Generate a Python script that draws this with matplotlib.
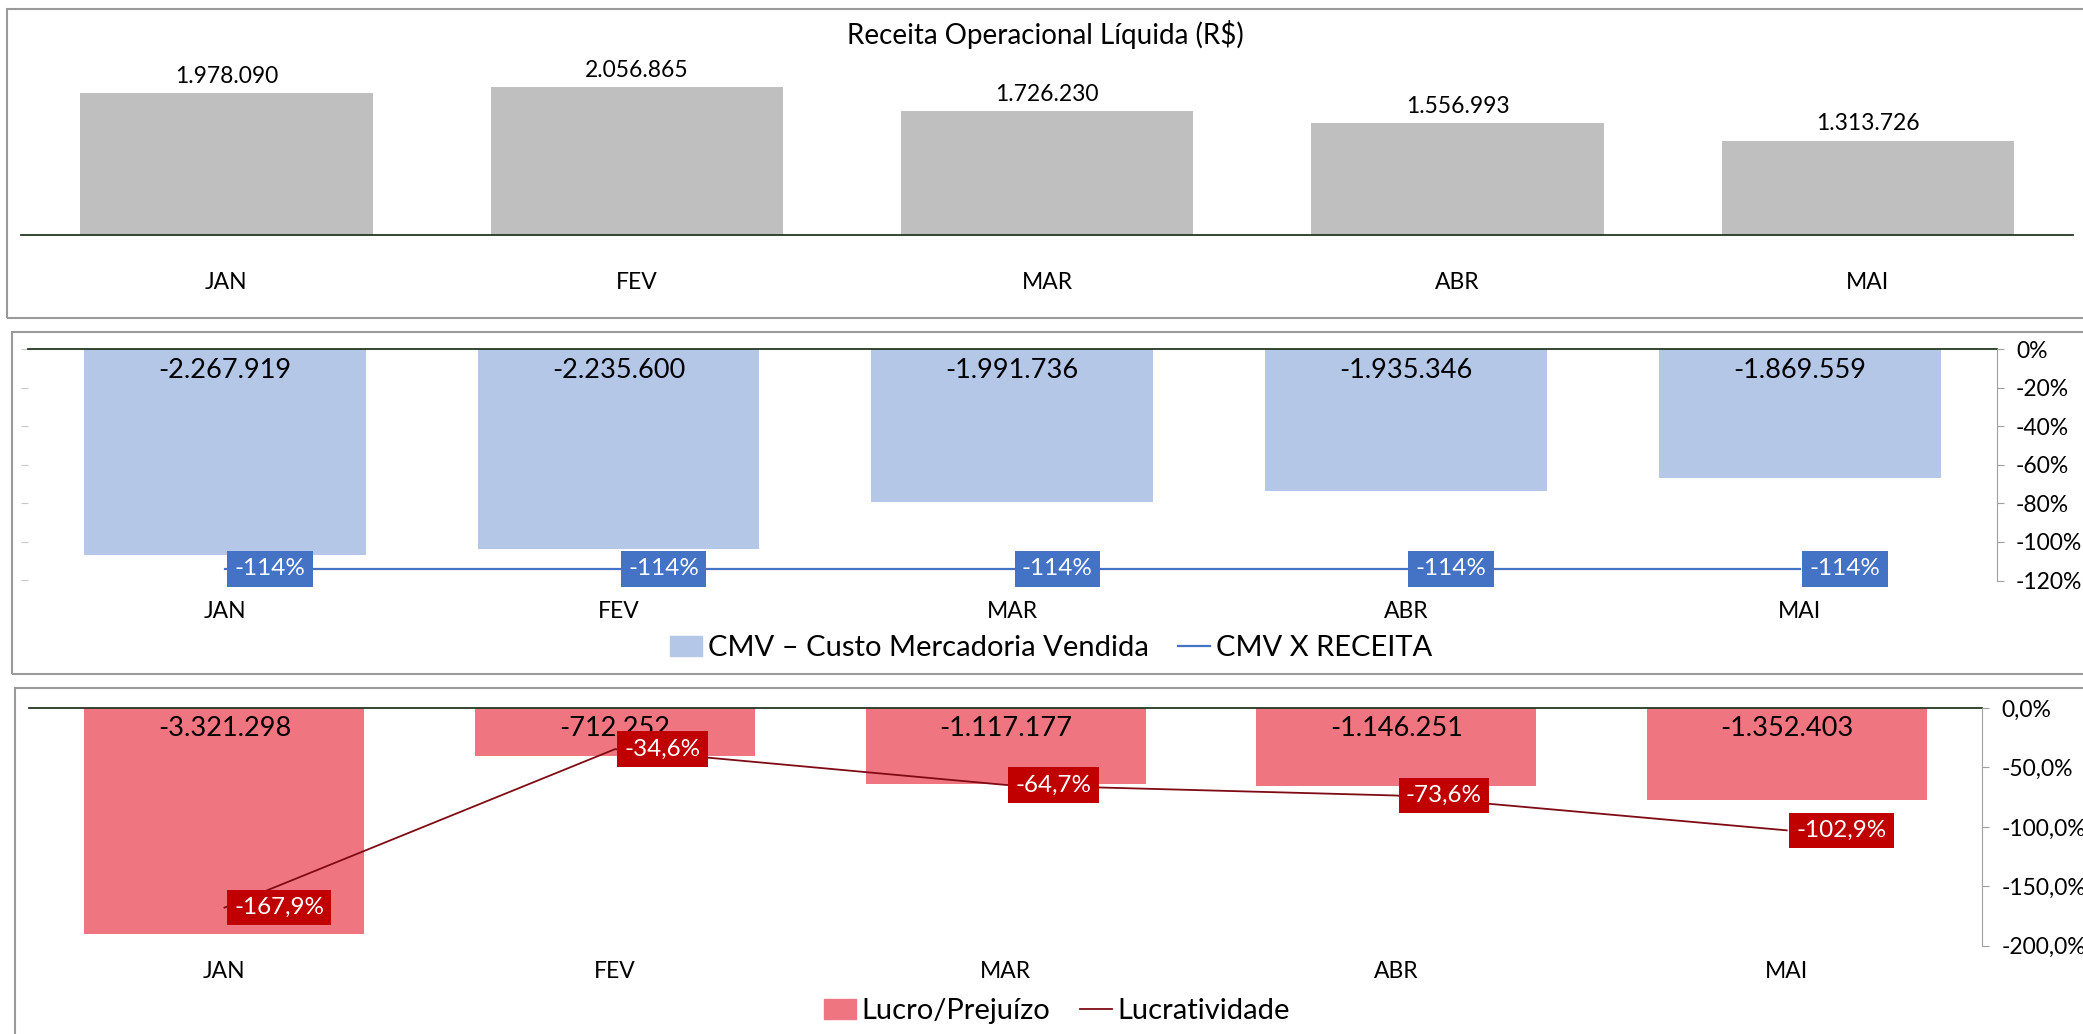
import matplotlib.pyplot as plt
from matplotlib.patches import Rectangle, Patch
from matplotlib.lines import Line2D

plt.rcParams['font.family'] = ['Lato', 'DejaVu Sans']

meses = ["JAN", "FEV", "MAR", "ABR", "MAI"]
receita = [1978090, 2056865, 1726230, 1556993, 1313726]
cmv = [-2267919, -2235600, -1991736, -1935346, -1869559]
cmv_x_receita = [-1.14, -1.14, -1.14, -1.14, -1.14]
lucro = [-3321298, -712252, -1117177, -1146251, -1352403]
lucratividade = [-1.679, -0.346, -0.647, -0.736, -1.029]

W, H = 2083, 1034
ZERO = "#223822"
x = range(len(meses))


def rect(x0, y0, x1, y1):
    # pixel box (top-left origin) -> figure fraction
    return [x0 / W, 1 - y1 / H, (x1 - x0) / W, (y1 - y0) / H]


def moeda(v):
    return f"{v:,}".replace(",", ".")


def moldura(fig, x0, y0, x1, y1):
    fig.patches.append(Rectangle((x0 / W, 1 - y1 / H), (x1 - x0) / W, (y1 - y0) / H,
                                 transform=fig.transFigure, fill=False,
                                 ec="#9a9a9a", lw=1.5))


def limpa(ax):
    for s in ax.spines.values():
        s.set_visible(False)


def rotulo(ax, i, v, txt, cor, fs=17.5):
    ax.annotate(txt, xy=(i, v), xytext=(7, 0), textcoords="offset points",
                ha="left", va="center", color="white", fontsize=fs, zorder=5,
                bbox=dict(boxstyle="square,pad=0.3", fc=cor, ec="none"))


fig = plt.figure(figsize=(W / 100, H / 100), dpi=100)

# molduras dos tres graficos
moldura(fig, 7, 9, W + 10, 318)
moldura(fig, 12, 332, W + 10, 674)
moldura(fig, 15, 688, W + 10, H + 10)

# ---- Receita Operacional Liquida
ax1 = fig.add_axes(rect(21.4, 60, 2073, 235))
ax1.bar(x, receita, width=0.712, color="#bfbfbf")
ax1.set_xlim(-0.5, 4.5)
ax1.set_ylim(0, 2.434e6)
limpa(ax1)
ax1.spines["bottom"].set_visible(True)
ax1.spines["bottom"].set_color(ZERO)
ax1.spines["bottom"].set_linewidth(1.3)
ax1.set_xticks([])
ax1.set_yticks([])
for i, v in enumerate(receita):
    ax1.annotate(moeda(v), xy=(i, v), xytext=(0, 12), textcoords="offset points",
                 ha="center", va="center", fontsize=16.5)
    ax1.text(i, -0.274, meses[i], transform=ax1.get_xaxis_transform(),
             ha="center", va="center", fontsize=16.5)
fig.text(1045 / W, 1 - 34.5 / H, "Receita Operacional Líquida (R$)",
         ha="center", va="center", fontsize=20)

# ---- CMV
ax2 = fig.add_axes(rect(27.9, 349.4, 1996.6, 580.5))
ax2.bar(x, cmv, width=0.716, color="#b4c7e7")
ax2.set_xlim(-0.5, 4.5)
ax2.set_ylim(-2.4e6, -1.2e6)
limpa(ax2)
ax2.spines["top"].set_visible(True)
ax2.spines["top"].set_color(ZERO)
ax2.spines["top"].set_linewidth(1.3)
ax2.set_xticks([])
ax2.set_yticks([-2.4e6, -2.2e6, -2.0e6, -1.8e6, -1.6e6, -1.4e6, -1.2e6])
ax2.tick_params(axis="y", length=5, color="#c8c8c8", labelleft=False)
for i, v in enumerate(cmv):
    ax2.text(i, 0.909, moeda(v), transform=ax2.get_xaxis_transform(),
             ha="center", va="center", fontsize=19.5)
    ax2.text(i, -0.132, meses[i], transform=ax2.get_xaxis_transform(),
             ha="center", va="center", fontsize=16.5)

ax2b = ax2.twinx()
ax2b.plot(x, cmv_x_receita, color="#4472c4", lw=1.6)
ax2b.set_ylim(-1.2, 0)
limpa(ax2b)
ax2b.spines["right"].set_visible(True)
ax2b.spines["right"].set_color("#a0a0a0")
ax2b.set_yticks([0, -0.2, -0.4, -0.6, -0.8, -1.0, -1.2])
ax2b.set_yticklabels([f"{t * 100:.0f}%" for t in [0, -0.2, -0.4, -0.6, -0.8, -1.0, -1.2]])
ax2b.tick_params(axis="y", length=5, color="#a0a0a0", labelsize=16.5, pad=9)
for i, v in enumerate(cmv_x_receita):
    rotulo(ax2b, i, v, f"{v * 100:.0f}%", "#4472c4")

fig.legend(handles=[Patch(color="#b4c7e7"), Line2D([], [], color="#4472c4", lw=1.6)],
           labels=["CMV – Custo Mercadoria Vendida", "CMV X RECEITA"],
           loc="center", bbox_to_anchor=(1051 / W, 1 - 648 / H), ncol=2,
           frameon=False, fontsize=21, handlelength=1.1, handletextpad=0.2,
           columnspacing=1.0)

# ---- Lucro / Prejuizo
ax3 = fig.add_axes(rect(29.2, 708, 1982, 945.8))
ax3.bar(x, lucro, width=0.717, color="#ef7680")
ax3.set_xlim(-0.5, 4.5)
ax3.set_ylim(-3.5e6, 0)
limpa(ax3)
ax3.spines["top"].set_visible(True)
ax3.spines["top"].set_color(ZERO)
ax3.spines["top"].set_linewidth(1.3)
ax3.set_xticks([])
ax3.set_yticks([])
for i, v in enumerate(lucro):
    ax3.text(i, 0.912, moeda(v), transform=ax3.get_xaxis_transform(),
             ha="center", va="center", fontsize=19.5)
    ax3.text(i, -0.110, meses[i], transform=ax3.get_xaxis_transform(),
             ha="center", va="center", fontsize=16.5)

ax3b = ax3.twinx()
ax3b.plot(x, lucratividade, color="#7f0a14", lw=1.3)
ax3b.set_ylim(-2.0, 0)
limpa(ax3b)
ax3b.spines["right"].set_visible(True)
ax3b.spines["right"].set_color("#a0a0a0")
ticks3 = [0, -0.5, -1.0, -1.5, -2.0]
ax3b.set_yticks(ticks3)
ax3b.set_yticklabels([f"{t * 100:.1f}%".replace(".", ",") for t in ticks3])
ax3b.tick_params(axis="y", length=5, color="#a0a0a0", labelsize=16.5, pad=9)
for i, v in enumerate(lucratividade):
    rotulo(ax3b, i, v, f"{v * 100:.1f}%".replace(".", ","), "#c00000")

fig.legend(handles=[Patch(color="#ef7680"), Line2D([], [], color="#7f0a14", lw=1.3)],
           labels=["Lucro/Prejuízo", "Lucratividade"],
           loc="center", bbox_to_anchor=(1057 / W, 1 - 1011 / H), ncol=2,
           frameon=False, fontsize=21, handlelength=1.1, handletextpad=0.2,
           columnspacing=1.0)

fig.savefig("out.png", dpi=100)
